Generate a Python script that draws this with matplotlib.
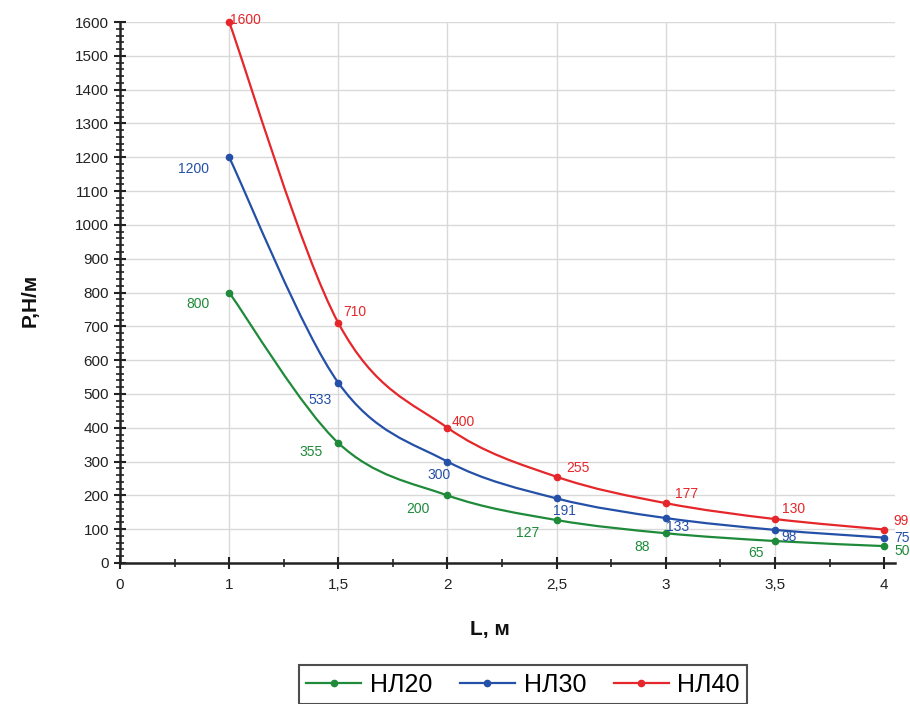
import matplotlib
matplotlib.use("Agg")
import matplotlib.pyplot as plt
from matplotlib.path import Path
from matplotlib.patches import PathPatch
from matplotlib.lines import Line2D
from matplotlib.ticker import MultipleLocator, FixedLocator

plt.rcParams['font.family'] = ['Liberation Sans', 'DejaVu Sans']

# ---- data ----
x_labels = ['0', '1', '1,5', '2', '2,5', '3', '3,5', '4']
L_values = ['1', '1,5', '2', '2,5', '3', '3,5', '4']
series_names = ['НЛ20', 'НЛ30', 'НЛ40']
nl20 = [800, 355, 200, 127, 88, 65, 50]
nl30 = [1200, 533, 300, 191, 133, 98, 75]
nl40 = [1600, 710, 400, 255, 177, 130, 99]

# ---- style ----
colors = ['#1e8a3a', '#2450a8', '#e5262a']
# label offsets in pixels (dx, dy) per point
offs20 = [(-31, -11), (-27, -9), (-30, -14), (-29, -13), (-24, -14), (-19, -12), (18, -5)]
offs30 = [(-36, -12), (-18, -17), (-8, -13), (8, -13), (12, -9), (14, -7), (18, 0)]
offs40 = [(16, 2), (17, 11), (16, 6), (21, 9), (21, 9), (19, 10), (17, 9)]

fig = plt.figure(figsize=(9.10, 7.04), dpi=100)
ax = fig.add_axes([120/910, 1-563/704, (895-120)/910, (563-22)/704])

pos = [x_labels.index(v) for v in L_values]

def smooth_path(xs, ys):
    verts = [(xs[0], ys[0])]
    codes = [Path.MOVETO]
    n = len(xs)
    for i in range(n - 1):
        x0, y0 = (xs[i-1], ys[i-1]) if i > 0 else (xs[i], ys[i])
        x1, y1 = xs[i], ys[i]
        x2, y2 = xs[i+1], ys[i+1]
        x3, y3 = (xs[i+2], ys[i+2]) if i + 2 < n else (xs[i+1], ys[i+1])
        c1 = (x1 + (x2 - x0) / 6, y1 + (y2 - y0) / 6)
        c2 = (x2 - (x3 - x1) / 6, y2 - (y3 - y1) / 6)
        verts += [c1, c2, (x2, y2)]
        codes += [Path.CURVE4] * 3
    return Path(verts, codes)

handles = []
for vals, col, offs, name in zip([nl20, nl30, nl40], colors, [offs20, offs30, offs40], series_names):
    patch = PathPatch(smooth_path(pos, vals), facecolor='none', edgecolor=col, lw=1.6, zorder=3, clip_on=False)
    ax.add_patch(patch)
    ax.plot(pos, vals, 'o', color=col, ms=4.5, zorder=4, clip_on=False)
    for xp, v, (dx, dy) in zip(pos, vals, offs):
        ax.annotate(str(v), (xp, v), xytext=(dx, dy), textcoords='offset pixels',
                    ha='center', va='center', color=col, fontsize=10, zorder=5)
    handles.append(Line2D([], [], color=col, lw=1.6, marker='o', ms=4.5, label=name))

ax.set_xlim(0, 7.1)
ax.set_ylim(0, 1600)
ax.xaxis.set_major_locator(FixedLocator(range(len(x_labels))))
ax.set_xticklabels(x_labels)
ax.xaxis.set_minor_locator(FixedLocator([i + 0.5 for i in range(len(x_labels) - 1)]))
ax.yaxis.set_major_locator(MultipleLocator(100))
ax.yaxis.set_minor_locator(MultipleLocator(20))

for s in ['top', 'right']:
    ax.spines[s].set_visible(False)
for s in ['left', 'bottom']:
    ax.spines[s].set_linewidth(1.8)
    ax.spines[s].set_color('#222222')

ax.tick_params(axis='both', which='major', direction='inout', length=8, width=1.5,
               colors='#222222', labelsize=11, labelcolor='#222222')
ax.tick_params(axis='both', which='minor', direction='inout', length=6, width=1.2, colors='#222222')
ax.tick_params(axis='x', which='major', pad=7)
ax.tick_params(axis='y', which='major', pad=4)

ax.grid(True, axis='y', which='major', color='#d9d9d9', lw=1.0, zorder=0)
for xp in pos[:-1]:
    ax.axvline(xp, color='#d9d9d9', lw=1.0, zorder=0)
ax.set_axisbelow(True)

fig.text(30/910, 1-300/704, 'P,Н/м', rotation=90, ha='center', va='center',
         fontsize=15, fontweight='bold', color='#111111')
fig.text(490/910, 1-630/704, 'L, м', ha='center', va='center',
         fontsize=15, fontweight='bold', color='#111111')

leg = fig.legend(handles=handles, loc='upper center', bbox_to_anchor=(523/910, 1-665/704),
                 ncol=3, frameon=True, fancybox=False, edgecolor='#222222',
                 fontsize=18, handlelength=2.2, handletextpad=0.35, columnspacing=1.1,
                 borderpad=0.3, borderaxespad=0)
leg.get_frame().set_linewidth(1.5)

fig.savefig('out.png', dpi=100)
